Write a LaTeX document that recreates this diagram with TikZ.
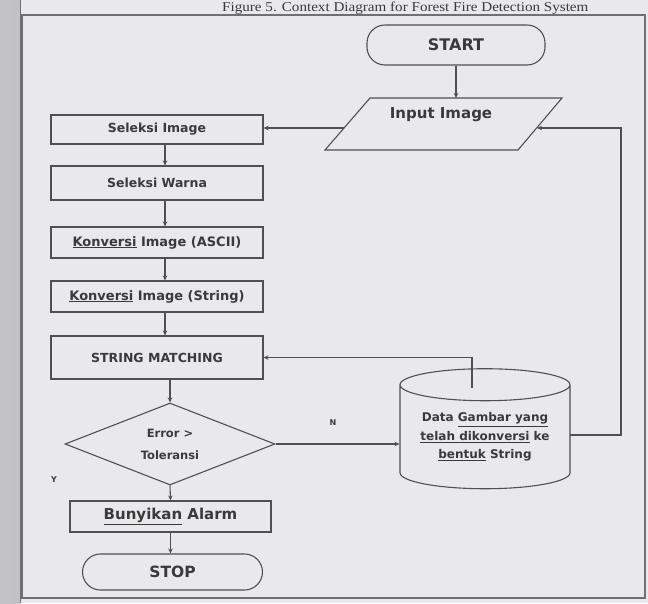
\documentclass[tikz,border=0pt]{standalone}
\usepackage{fontspec}
\setmainfont{DejaVu Sans}
\newfontfamily\capfont{Liberation Serif}
\usetikzlibrary{shapes.geometric,arrows.meta,calc}
\definecolor{paper}{HTML}{E9E9EC}
\definecolor{edgec}{HTML}{C2C2C6}
\definecolor{lc}{HTML}{505050}
\definecolor{tc}{HTML}{3A3A3A}
\definecolor{framec}{HTML}{707070}
\begin{document}
\begin{tikzpicture}[x=1pt,y=-1pt,
  ln/.style={draw=lc,line width=1.1pt},
  arr/.style={draw=lc,line width=1.1pt,-{Stealth[length=5pt,width=4.5pt]}},
  box/.style={ln,fill=paper,minimum width=212pt,inner sep=0pt,text=tc,font=\fontsize{12.5}{14}\selectfont\bfseries},
  term/.style={ln,fill=paper,rounded corners=18pt,inner sep=0pt,text=tc,font=\fontsize{16}{18}\selectfont\bfseries},
  lbl/.style={text=tc,font=\fontsize{8}{10}\selectfont\bfseries,inner sep=0pt}
]
\useasboundingbox (0,0) rectangle (648,603);
\clip (0,0) rectangle (648,603);
\fill[paper] (0,0) rectangle (648,603);
\shade[left color=edgec!80!black!60, right color=edgec] (0,0) rectangle (20,603);
\draw[framec,line width=0.8pt] (20,0) -- (20,603);
% caption
\node[anchor=base west,text=tc,inner sep=0pt,xscale=1.12,font=\capfont\fontsize{13.5}{14}\selectfont] (cap) at (222,11.5) {Figure 5. Context Diagram for Forest Fire Detection System};
% frame
\draw[framec,line width=1.6pt] (22,15) rectangle (645,598);

% terminal start
\node[term,minimum width=178pt,minimum height=40pt] (start) at (456,45) {START};

% input parallelogram
\coordinate (p1) at (370,98);
\coordinate (p2) at (562,98);
\coordinate (p3) at (518,150);
\coordinate (p4) at (325,150);
\draw[ln,fill=paper] (p1) -- (p2) -- (p3) -- (p4) -- cycle;
\node[text=tc,inner sep=0pt,font=\fontsize{15}{17}\selectfont\bfseries] (inp) at (441,115) {Input Image};
\coordinate (ptop) at (456,98);
\coordinate (pl) at (344,128);
\coordinate (pr) at (537,128);

% process column
\node[box,minimum height=29pt] (b1) at (157,129.5) {Seleksi Image};
\node[box,minimum height=34pt] (b2) at (157,183) {Seleksi Warna};
\node[box,minimum height=31pt,font=\fontsize{13}{15}\selectfont\bfseries] (b3) at (157,242.5) {\underline{Konversi} Image (ASCII)};
\node[box,minimum height=31pt,font=\fontsize{13}{15}\selectfont\bfseries] (b4) at (157,296.5) {\underline{Konversi} Image (String)};
\node[box,minimum height=43pt] (b5) at (157,357.5) {STRING MATCHING};

% decision
\node[diamond,ln,fill=paper,aspect=2.56,minimum width=210pt,minimum height=82pt,inner sep=0pt,align=center,text=tc,font=\fontsize{11.5}{22}\selectfont\bfseries] (dia) at (170,444) {Error >\\Toleransi};

\node[box,minimum width=201pt,minimum height=31pt,font=\fontsize{15}{17}\selectfont\bfseries] (alarm) at (170.5,516.5) {\underline{Bunyikan} Alarm};
\node[term,minimum width=180pt,minimum height=36pt,font=\fontsize{15.5}{17}\selectfont\bfseries] (stop) at (172.5,572) {STOP};

% database cylinder
\node[cylinder,shape border rotate=90,ln,fill=paper,aspect=0.2,minimum width=170pt,minimum height=120pt,inner sep=0pt,align=center,text=tc,font=\fontsize{12}{18.5}\selectfont\bfseries] (cyl) at (485,437) {\raisebox{-5pt}{\parbox{160pt}{\centering Data \underline{Gambar yang}\\ \underline{telah dikonversi} ke\\ \underline{bentuk} String}}};
\coordinate (ct) at (472,388);
\coordinate (cr) at (570,435);
\coordinate (rt) at (621,128);

% labels
\node[lbl] (ylab) at (54,480) {Y};
\node[lbl] (nlab) at (333,423) {N};

% connectors
\draw[arr] (start.south) -- (ptop);
\draw[arr] (pl) -- (pl -| b1.east);
\draw[arr] ([xshift=8pt]b1.south) -- ([xshift=8pt]b2.north);
\draw[arr] ([xshift=8pt]b2.south) -- ([xshift=8pt]b3.north);
\draw[arr] ([xshift=8pt]b3.south) -- ([xshift=8pt]b4.north);
\draw[arr] ([xshift=8pt]b4.south) -- ([xshift=8pt]b5.north);
\draw[arr] (dia.north |- b5.south) -- (dia.north);
\draw[arr] (dia.south) -- (alarm.north);
\draw[arr] (alarm.south) -- (alarm.south |- stop.north);
\draw[arr] (dia.east) -- (dia.east -| cyl.west);
\draw[arr] (ct) |- (b5.east);
\draw[arr] (cr) -| (rt) -- (pr);
\end{tikzpicture}
\end{document}
